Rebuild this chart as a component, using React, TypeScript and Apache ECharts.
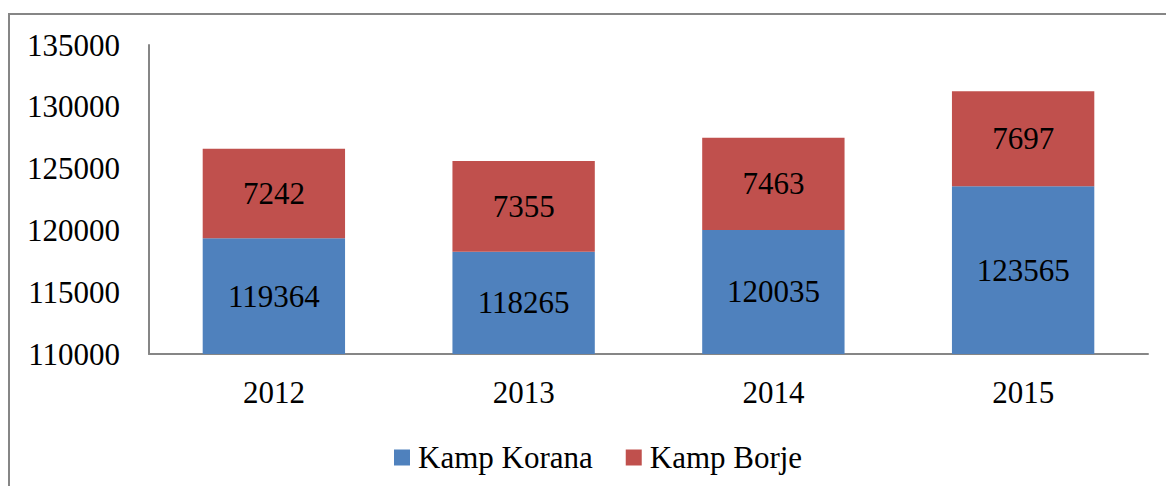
import React, { useEffect, useRef } from "react";
import * as echarts from "echarts";

const years = ["2012", "2013", "2014", "2015"];
const kampKorana = [119364, 118265, 120035, 123565];
const kampBorje = [7242, 7355, 7463, 7697];
const yTicks = { min: 110000, max: 135000, interval: 5000 };

const FONT = "'Liberation Serif', 'Times New Roman', serif";

export default function App() {
  const ref = useRef<HTMLDivElement>(null);
  useEffect(() => {
    if (!ref.current) return;
    const chart = echarts.init(ref.current, undefined, { renderer: "svg" });
    const label = {
      show: true,
      position: "inside",
      color: "#000",
      fontFamily: FONT,
      fontSize: 31,
    };
    chart.setOption({
      animation: false,
      backgroundColor: "#fff",
      textStyle: { fontFamily: FONT },
      graphic: [
        {
          type: "rect",
          shape: { x: 9, y: 14, width: 1180, height: 490 },
          style: { fill: "none", stroke: "#868686", lineWidth: 2 },
          silent: true,
          z: -10,
        },
      ],
      grid: { left: 149, right: 18, top: 45, bottom: 132 },
      legend: {
        left: 389,
        top: 437,
        itemWidth: 16,
        itemHeight: 16,
        itemGap: 33,
        icon: "rect",
        textStyle: { fontFamily: FONT, fontSize: 31, color: "#000", padding: [0, 0, 0, 3] },
        data: ["Kamp Korana", "Kamp Borje"],
      },
      xAxis: {
        type: "category",
        data: years,
        axisLine: { lineStyle: { color: "#868686", width: 2 } },
        axisTick: { show: false },
        axisLabel: { color: "#000", fontFamily: FONT, fontSize: 31, margin: 23 },
      },
      yAxis: {
        type: "value",
        min: yTicks.min,
        max: yTicks.max,
        interval: yTicks.interval,
        axisLine: { show: true, lineStyle: { color: "#868686", width: 2 } },
        axisTick: { show: false },
        splitLine: { show: false },
        axisLabel: {
          color: "#000",
          fontFamily: FONT,
          fontSize: 31,
          margin: 29,
          formatter: (v: number) => String(v),
        },
      },
      series: [
        {
          name: "Kamp Korana",
          type: "bar",
          stack: "total",
          barWidth: "57%",
          data: kampKorana,
          itemStyle: { color: "#4F81BD" },
          label,
        },
        {
          name: "Kamp Borje",
          type: "bar",
          stack: "total",
          barWidth: "57%",
          data: kampBorje,
          itemStyle: { color: "#C0504D" },
          label,
        },
      ],
    });
    return () => chart.dispose();
  }, []);
  return (
    <div
      ref={ref}
      style={{ position: "absolute", left: 0, top: 0, width: 1166, height: 486 }}
    />
  );
}
